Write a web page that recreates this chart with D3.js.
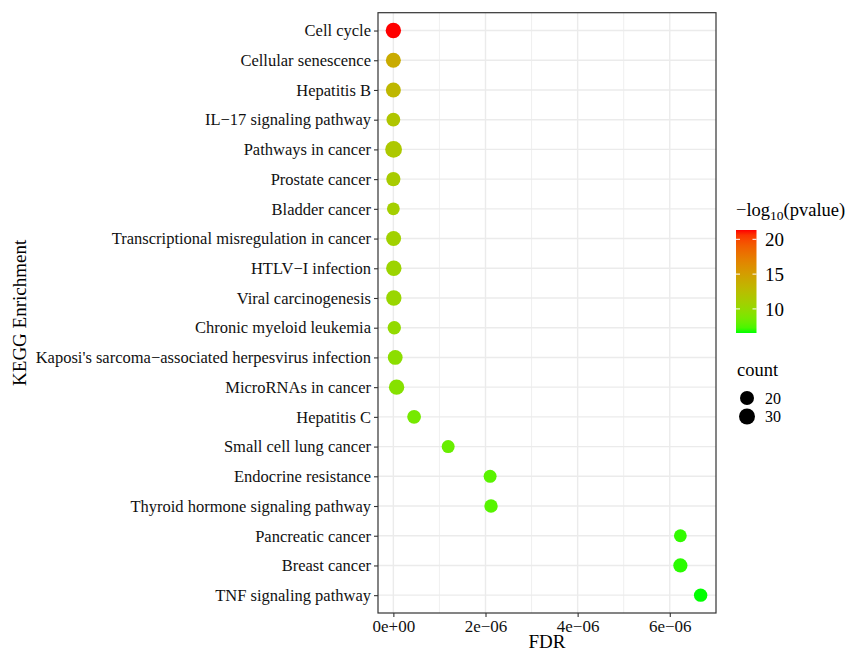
<!DOCTYPE html>
<html>
<head>
<meta charset="utf-8">
<script src="https://cdn.jsdelivr.net/npm/d3@7"></script>
<style>
  body { margin: 0; background: #fff; }
  svg { font-family: "Liberation Serif", "Times New Roman", serif; }
</style>
</head>
<body>
<svg id="chart" width="848" height="653"></svg>
<script>
// KEGG enrichment dot plot
const pathways = [
  'Cell cycle', 'Cellular senescence', 'Hepatitis B', 'IL\u221217 signaling pathway',
  'Pathways in cancer', 'Prostate cancer', 'Bladder cancer',
  'Transcriptional misregulation in cancer', 'HTLV\u2212I infection', 'Viral carcinogenesis',
  'Chronic myeloid leukemia', "Kaposi's sarcoma\u2212associated herpesvirus infection",
  'MicroRNAs in cancer', 'Hepatitis C', 'Small cell lung cancer', 'Endocrine resistance',
  'Thyroid hormone signaling pathway', 'Pancreatic cancer', 'Breast cancer', 'TNF signaling pathway'
];
const fdr = [
  0, 0, 0, 0, 0.005e-6, 0, 0, 0.005e-6, 0.01e-6, 0.01e-6,
  0.02e-6, 0.04e-6, 0.07e-6, 0.45e-6, 1.19e-6, 2.10e-6,
  2.12e-6, 6.23e-6, 6.23e-6, 6.67e-6
];
const logP = [
  21.34, 14.0, 13.0, 11.8, 11.6, 11.3, 11.0, 10.8, 10.5, 10.3,
  10.0, 9.6, 9.3, 8.6, 8.1, 7.7, 7.6, 6.9, 6.8, 6.54
];
const counts = [
  27, 25, 25, 19, 34, 21, 14, 25, 27, 27,
  17, 24, 27, 19, 15, 15, 17, 14, 21, 17
];
const xTicks = [0, 2e-6, 4e-6, 6e-6];
const xMinor = [1e-6, 3e-6, 5e-6];
const colorTicks = [10, 15, 20];
const sizeBreaks = [20, 30];

const data = pathways.map((p, i) => ({ name: p, fdr: fdr[i], logp: logP[i], count: counts[i] }));

const svg = d3.select('#chart');
const panel = { left: 378, right: 716, top: 12.7, bottom: 613 };

// scales
const xMax = d3.max(fdr), xMin = d3.min(fdr);
const pad = (xMax - xMin) * 0.05;
const x = d3.scaleLinear().domain([xMin - pad, xMax + pad]).range([panel.left, panel.right]);
const y = d3.scalePoint().domain(pathways).range([panel.top, panel.bottom]).padding(0.6);
const color = d3.scaleLinear().domain(d3.extent(logP)).range(['#00ff00', '#ff0000'])
    .interpolate(d3.interpolateLab);
const r = d3.scaleLinear().domain([20, 30]).range([7, 8]);

function sci(v) {
    if (v === 0) return '0e+00';
    const e = Math.floor(Math.log10(Math.abs(v)) + 1e-9);
    const m = Math.round(v / Math.pow(10, e));
    const sign = e < 0 ? '\u2212' : '+';
    return m + 'e' + sign + String(Math.abs(e)).padStart(2, '0');
}

// grid
const grid = svg.append('g');
grid.selectAll('line.minor')
    .data(xMinor)
    .join('line')
    .attr('x1', d => x(d)).attr('x2', d => x(d))
    .attr('y1', panel.top).attr('y2', panel.bottom)
    .attr('stroke', '#ebebeb').attr('stroke-width', 0.8);
grid.selectAll('line.major')
    .data(xTicks)
    .join('line')
    .attr('x1', d => x(d)).attr('x2', d => x(d))
    .attr('y1', panel.top).attr('y2', panel.bottom)
    .attr('stroke', '#ebebeb').attr('stroke-width', 1.4);
grid.selectAll('line.h')
    .data(pathways)
    .join('line')
    .attr('x1', panel.left).attr('x2', panel.right)
    .attr('y1', d => y(d)).attr('y2', d => y(d))
    .attr('stroke', '#ebebeb').attr('stroke-width', 1.4);

// points
svg.append('g')
    .selectAll('circle')
    .data(data)
    .join('circle')
    .attr('cx', d => x(d.fdr))
    .attr('cy', d => y(d.name))
    .attr('r', d => r(d.count))
    .attr('fill', d => color(d.logp));

// border
svg.append('rect')
    .attr('x', panel.left).attr('y', panel.top)
    .attr('width', panel.right - panel.left).attr('height', panel.bottom - panel.top)
    .attr('fill', 'none').attr('stroke', '#333').attr('stroke-width', 1.2);

// axes
const xAxis = svg.append('g')
    .attr('transform', `translate(0,${panel.bottom})`)
    .call(d3.axisBottom(x).tickValues(xTicks).tickFormat(sci).tickSize(4).tickPadding(3));
const yAxis = svg.append('g')
    .attr('transform', `translate(${panel.left},0)`)
    .call(d3.axisLeft(y).tickSize(4).tickPadding(3));
[xAxis, yAxis].forEach(a => {
    a.select('.domain').remove();
    a.selectAll('.tick line').attr('stroke', '#333').attr('stroke-width', 1.1);
    a.selectAll('.tick text').attr('fill', '#111')
        .style('font-family', '"Liberation Serif", serif');
});
xAxis.selectAll('.tick text').style('font-size', '17px');
yAxis.selectAll('.tick text').style('font-size', '16.5px');

svg.append('text')
    .attr('x', (panel.left + panel.right) / 2).attr('y', 648)
    .attr('text-anchor', 'middle').style('font-size', '19px').text('FDR');
svg.append('text')
    .attr('transform', `translate(26,${(panel.top + panel.bottom) / 2}) rotate(-90)`)
    .attr('text-anchor', 'middle').style('font-size', '19px').text('KEGG Enrichment');

// colour legend
const cb = { x: 736, y: 230, w: 20.5, h: 103 };
const cbScale = d3.scaleLinear().domain(d3.extent(logP)).range([cb.y + cb.h, cb.y]);
const grad = svg.append('defs').append('linearGradient')
    .attr('id', 'cbar').attr('x1', 0).attr('y1', 1).attr('x2', 0).attr('y2', 0);
grad.selectAll('stop')
    .data(d3.range(0, 1.0001, 0.05))
    .join('stop')
    .attr('offset', d => d)
    .attr('stop-color', d => color(color.domain()[0] + d * (color.domain()[1] - color.domain()[0])));

const title = svg.append('text').attr('x', 736).attr('y', 216).style('font-size', '18.5px');
title.append('tspan').text('\u2212log');
title.append('tspan').attr('dy', 4).style('font-size', '13.5px').text('10');
title.append('tspan').attr('dy', -4).text('(pvalue)');

svg.append('rect')
    .attr('x', cb.x).attr('y', cb.y).attr('width', cb.w).attr('height', cb.h)
    .attr('fill', 'url(#cbar)');
const ct = svg.append('g');
ct.selectAll('line.l')
    .data(colorTicks)
    .join('line')
    .attr('x1', cb.x).attr('x2', cb.x + 4)
    .attr('y1', d => cbScale(d)).attr('y2', d => cbScale(d))
    .attr('stroke', '#fff').attr('stroke-width', 1);
ct.selectAll('line.r')
    .data(colorTicks)
    .join('line')
    .attr('x1', cb.x + cb.w - 4).attr('x2', cb.x + cb.w)
    .attr('y1', d => cbScale(d)).attr('y2', d => cbScale(d))
    .attr('stroke', '#fff').attr('stroke-width', 1);
ct.selectAll('text')
    .data(colorTicks)
    .join('text')
    .attr('x', 765).attr('y', d => cbScale(d))
    .attr('dy', '0.35em').style('font-size', '19px')
    .text(d => d);

// size legend
svg.append('text').attr('x', 737).attr('y', 376).style('font-size', '18.5px').text('count');
const sl = svg.append('g');
sl.selectAll('circle')
    .data(sizeBreaks)
    .join('circle')
    .attr('cx', 747).attr('cy', (d, i) => 398 + i * 18.5)
    .attr('r', d => r(d)).attr('fill', '#000');
sl.selectAll('text')
    .data(sizeBreaks)
    .join('text')
    .attr('x', 765).attr('y', (d, i) => 398 + i * 18.5)
    .attr('dy', '0.35em').style('font-size', '16px')
    .text(d => d);
</script>
</body>
</html>
